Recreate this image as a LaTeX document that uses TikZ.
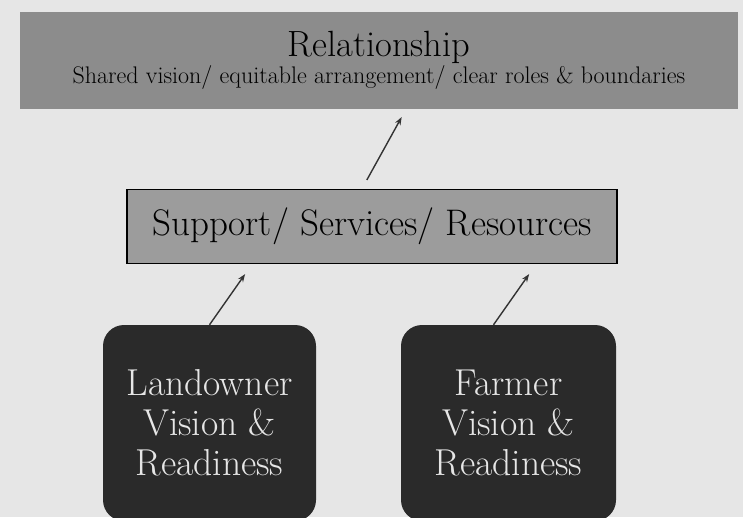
\documentclass[tikz,border=0pt]{standalone}
\usepackage{tikz}
\usetikzlibrary{positioning, arrows.meta}
\definecolor{paper}{HTML}{E6E6E6}
\definecolor{topgray}{HTML}{8C8C8C}
\definecolor{midgray}{HTML}{9C9C9C}
\definecolor{darkbox}{HTML}{2A2A2A}
\definecolor{inkgray}{HTML}{333333}
\tikzset{
    level box/.style = {draw=none, inner sep=0pt, align=center},
    top level/.style = {level box, fill=topgray, minimum width=718pt, minimum height=97pt},
    mid level/.style = {level box, fill=midgray, draw=black, line width=1.6pt,
        minimum width=490pt, minimum height=74pt},
    base level/.style = {level box, fill=darkbox, rounded corners=21pt, text=paper,
        minimum width=213pt, minimum height=196pt, font=\fontsize{37.5}{40}\selectfont},
    up arrow/.style = {draw=inkgray, line width=1.4pt, -{Stealth[length=8pt, width=6pt]}},
}
\begin{document}
\begin{tikzpicture}[x=1pt, y=-1pt, every node/.style=on grid]
            \fill[paper] (0,0) rectangle (743,517);
            \clip (0,0) rectangle (743,517);
            \node[top level] (rel) at (379,60.5) {{\fontsize{36.5}{36}\selectfont Relationship}\\[1pt]
                {\fontsize{24}{24}\selectfont Shared vision/ equitable arrangement/ clear roles \& boundaries}};
            \node[mid level] (sup) [below=166pt of rel, xshift=-7pt] {\fontsize{37}{38}\selectfont Support/ Services/ Resources};
            \node[base level] (land) [below left=196.5pt and 162.5pt of sup] {Landowner\\Vision \&\\Readiness};
            \node[base level, minimum width=215pt] (farm) [right=299pt of land] {Farmer\\Vision \&\\Readiness};

            \draw[up arrow, shorten <=10pt, shorten >=9pt] ([xshift=-10pt]sup.north) -- ([xshift=27pt]rel.south);
            \draw[up arrow, shorten >=12pt] (land.north) -- ([xshift=-120pt]sup.south);
            \draw[up arrow, shorten >=12pt] ([xshift=-15pt]farm.north) -- ([xshift=164pt]sup.south);
        \end{tikzpicture}
\end{document}
